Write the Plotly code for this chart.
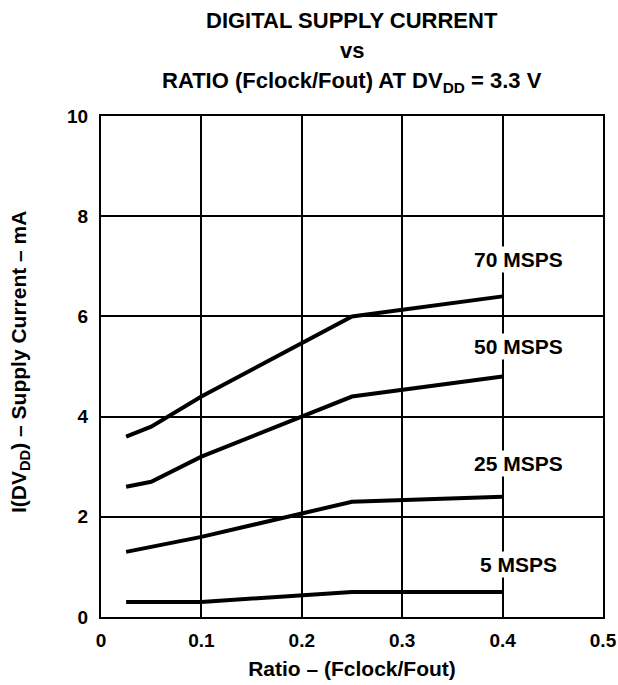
import plotly.graph_objects as go

ratio_5 = [0.025, 0.1, 0.25, 0.4]
current_5 = [0.3, 0.3, 0.5, 0.5]
ratio_25 = [0.025, 0.1, 0.25, 0.4]
current_25 = [1.3, 1.6, 2.3, 2.4]
ratio_50 = [0.025, 0.05, 0.1, 0.2, 0.25, 0.4]
current_50 = [2.6, 2.7, 3.2, 4.0, 4.4, 4.8]
ratio_70 = [0.025, 0.05, 0.1, 0.2, 0.25, 0.4]
current_70 = [3.6, 3.8, 4.4, 5.47, 6.0, 6.4]

series_names = ["5 MSPS", "25 MSPS", "50 MSPS", "70 MSPS"]
label_x = [0.416, 0.416, 0.416, 0.416]
label_y = [1.04, 3.07, 5.39, 7.13]

x_ticks = [0, 0.1, 0.2, 0.3, 0.4, 0.5]
x_tick_text = ["0", "0.1", "0.2", "0.3", "0.4", "0.5"]
y_ticks = [0, 2, 4, 6, 8, 10]

FONT = "Liberation Sans, Arial, sans-serif"

W, H = 618, 685
L, R, T, B = 101, 15, 116, 68
pw = W - L - R
ph = H - T - B

fig = go.Figure()
for xs, ys, nm in [(ratio_5, current_5, series_names[0]),
                   (ratio_25, current_25, series_names[1]),
                   (ratio_50, current_50, series_names[2]),
                   (ratio_70, current_70, series_names[3])]:
    fig.add_trace(go.Scatter(x=xs, y=ys, mode="lines", name=nm,
                             line=dict(color="black", width=4),
                             showlegend=False, hoverinfo="skip"))

for nm, lx, ly in zip(series_names, label_x, label_y):
    fig.add_annotation(x=lx, y=ly, text="<b>" + nm + "</b>", showarrow=False,
                       bgcolor="white", borderpad=1,
                       font=dict(family=FONT, size=21, color="black"))

# title lines, centred over the plot
title_lines = ["<b>DIGITAL SUPPLY CURRENT</b>", "<b>vs</b>",
               "<b>RATIO (Fclock/Fout) AT DV<sub>DD</sub> = 3.3 V</b>"]
title_y = [20, 51, 82]
for txt, ty in zip(title_lines, title_y):
    fig.add_annotation(xref="paper", yref="paper", x=0.5,
                       y=1 + (T - ty) / ph,
                       text=txt, showarrow=False, yanchor="middle",
                       font=dict(family=FONT, size=22, color="black"))

# y axis title
fig.add_annotation(xref="paper", yref="paper",
                   x=(20 - L) / pw, y=1 - (362 - T) / ph,
                   text="<b>I(DV<sub>DD</sub>) – Supply Current – mA</b>",
                   textangle=-90, showarrow=False, xanchor="center", yanchor="middle",
                   font=dict(family=FONT, size=21, color="black"))

axis_common = dict(showgrid=True, gridcolor="black", gridwidth=2,
                   showline=True, linecolor="black", linewidth=2, mirror=True,
                   zeroline=False, ticks="outside", tickcolor="rgba(0,0,0,0)",
                   tickfont=dict(family=FONT, size=19, color="black"))

fig.update_xaxes(range=[0, 0.5], tickvals=x_ticks, ticklen=5,
                 ticktext=["<b>" + t + "</b>" for t in x_tick_text],
                 title=dict(text="<b>Ratio – (Fclock/Fout)</b>", standoff=12,
                            font=dict(family=FONT, size=21, color="black")),
                 **axis_common)
fig.update_yaxes(range=[0, 10], tickvals=y_ticks, ticklen=7,
                 ticktext=["<b>%d</b>" % v for v in y_ticks],
                 **axis_common)

fig.update_layout(width=W, height=H,
                  margin=dict(l=L, r=R, t=T, b=B, autoexpand=False),
                  plot_bgcolor="white", paper_bgcolor="white",
                  font=dict(family=FONT, color="black"))

fig.write_html("out.html", config={"displayModeBar": False},
               post_script="document.body.style.margin='0px';")
